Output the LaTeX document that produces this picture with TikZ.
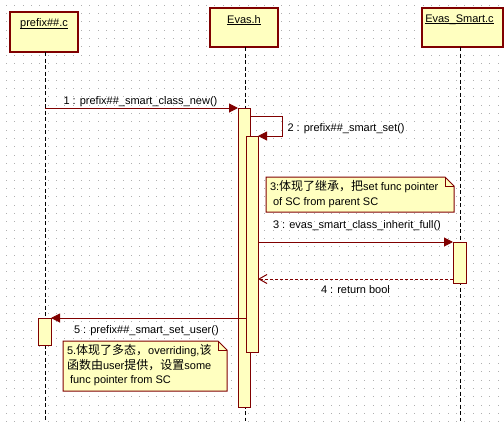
\documentclass[tikz,border=0pt]{standalone}
\usepackage{fontspec}
\setmainfont{Liberation Sans}
\newfontfamily\cjk{Noto Sans CJK SC}
\usetikzlibrary{arrows.meta,calc}
\definecolor{boxfill}{RGB}{255,255,192}
\definecolor{dred}{RGB}{128,0,0}
\definecolor{griddot}{RGB}{175,175,175}
\newcommand{\zh}[1]{{\cjk\fontsize{12}{14}\selectfont #1}}
\begin{document}
\begin{tikzpicture}[x=1pt,y=-1pt,
  every node/.style={font=\fontsize{11}{14.5}\selectfont, inner sep=0pt, outer sep=0pt},
  head/.style={draw=dred, line width=1.6pt, fill=boxfill},
  headtxt/.style={anchor=base},
  uline/.style={line width=0.9pt},
  act/.style={draw=dred, line width=1pt, fill=boxfill, anchor=north west},
  life/.style={line width=1pt, dash pattern=on 4pt off 2.5pt},
  msg/.style={draw=dred, line width=1pt, -{Triangle[length=9pt,width=9pt]}},
  ret/.style={draw=dred, line width=1pt, dash pattern=on 3pt off 2pt, -{Straight Barb[length=8pt,width=9pt]}},
  lbl/.style={anchor=base west},
  notebox/.style={draw=dred, line width=1pt, fill=boxfill},
  notetxt/.style={anchor=north west, align=left}]
\useasboundingbox (0,0) rectangle (504,421);
\fill[white] (0,0) rectangle (504,421);
% grid dots
\foreach \i in {0,...,60}{
  \foreach \j in {0,...,50}{
    \fill[griddot] ({6.1+\i*8.333},{4.8+\j*8.333}) rectangle ++(1,1);
  }
}
\coordinate (bot) at (0,421);
% heads
\node[head, minimum width=68, minimum height=40] (hp) at (44,32) {};
\node[head, minimum width=68, minimum height=39] (he) at (244,27.5) {};
\node[head, minimum width=81, minimum height=39] (hs) at (462.5,27.5) {};
\node[headtxt] (hpt) at (44,26.5) {prefix\#\#.c};
\node[headtxt] (het) at (244,23) {Evas.h};
\node[headtxt] (hst) at (459.5,22) {Evas\_Smart.c};
\draw[uline] ($(hpt.base west)+(0,1.6)$) -- ($(hpt.base east)+(0,1.6)$);
\draw[uline] ($(het.base west)+(0,1.6)$) -- ($(het.base east)+(0,1.6)$);
\draw[uline] ($(hst.base west)+(0,1.6)$) -- ($(hst.base east)+(0,1.6)$);
% lifelines
\coordinate (lp) at (45,52);
\coordinate (le) at (245.5,47);
\coordinate (ls) at (460,47);
\draw[life] (lp) -- (lp |- bot);
\draw[life] (le) -- (le |- bot);
\draw[life] (ls) -- (ls |- bot);
% activations
\node[act, minimum width=12, minimum height=299] (a1) at (238,108) {};
\node[act, minimum width=12, minimum height=216] (a2) at (246,136) {};
\node[act, minimum width=13, minimum height=41] (a3) at (453,242) {};
\node[act, minimum width=13, minimum height=27] (a4) at (38,318) {};
% messages
\draw[msg] (lp |- a1.north west) -- (a1.north west);
\draw[msg] ($(a1.north east)+(0,8)$) -| ($(a2.north east)+(24,0)$) -- (a2.north east);
\draw[msg] (a2.east |- a3.north west) -- (a3.north west);
\coordinate (r4) at ($(a3.south west)+(0,-4)$);
\draw[ret] (r4) -- (a2.east |- r4);
\draw[msg] (a2.west |- a4.north east) -- (a4.north east);
% message labels
\node[lbl] (l1) at (63.5,104) {1 : prefix\#\#\_smart\_class\_new()};
\node[lbl] (l2) at (287.5,131) {2 : prefix\#\#\_smart\_set()};
\node[lbl] (l3) at (273,228) {3 : evas\_smart\_class\_inherit\_full()};
\node[lbl] (l4) at (321,293.5) {4 : return bool};
\node[lbl] (l5) at (74,333.5) {5 : prefix\#\#\_smart\_set\_user()};
% note 3
\coordinate (n3a) at (266,177);
\coordinate (n3b) at (454,212);
\draw[notebox] (n3a) -- ($(n3b |- n3a)+(-9,0)$) -- ($(n3b |- n3a)+(0,9)$) -- (n3b) -- (n3a |- n3b) -- cycle;
\draw[draw=dred, line width=1pt] ($(n3b |- n3a)+(-9,0)$) -- ($(n3b |- n3a)+(-9,9)$) -- ($(n3b |- n3a)+(0,9)$);
\node[notetxt] (n3t) at (270,180) {3:\zh{体现了继承，把}set func pointer\\[0.5pt]\ of SC from parent SC};
% note 5
\coordinate (n5a) at (63,341);
\coordinate (n5b) at (227,391);
\draw[notebox] (n5a) -- ($(n5b |- n5a)+(-9,0)$) -- ($(n5b |- n5a)+(0,9)$) -- (n5b) -- (n5a |- n5b) -- cycle;
\draw[draw=dred, line width=1pt] ($(n5b |- n5a)+(-9,0)$) -- ($(n5b |- n5a)+(-9,9)$) -- ($(n5b |- n5a)+(0,9)$);
\node[notetxt] (n5t) at (67,344.5) {5.\zh{体现了多态，}overriding,\zh{该}\\\zh{函数由}user\zh{提供，设置}some\\\ func pointer from SC};
\end{tikzpicture}
\end{document}
